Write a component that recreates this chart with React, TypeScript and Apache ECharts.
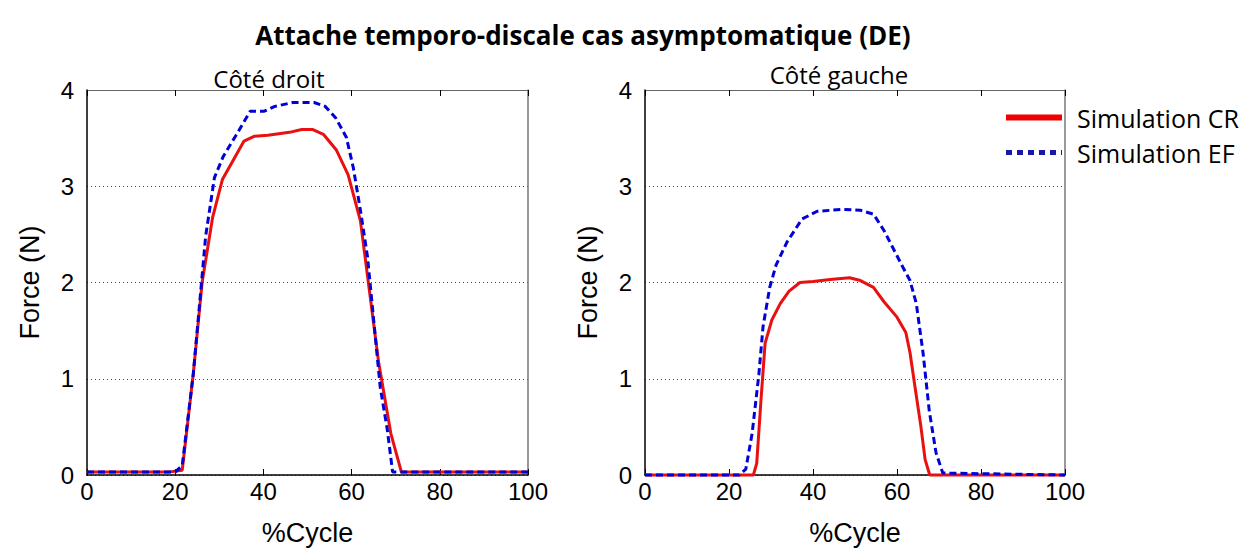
import React, { useEffect, useRef } from "react";
import * as echarts from "echarts";

const titleText = "Attache temporo-discale cas asymptomatique (DE)";
const subTitles = ["Côté droit", "Côté gauche"];
const seriesNames = ["Simulation CR", "Simulation EF"];
const xTicks = [0, 20, 40, 60, 80, 100];
const yTicks = [0, 1, 2, 3, 4];

const xCrDroit = [0, 18.4, 21.6, 24.1, 26.1, 28.5, 30.7, 32.9, 35.6, 38.0, 41.0, 45.9, 48.7, 51.1, 53.6, 56.5, 59.2, 62.0, 64.0, 66.1, 68.9, 71.3, 100];
const yCrDroit = [0.03, 0.03, 0.05, 1.05, 2.0, 2.68, 3.07, 3.25, 3.47, 3.52, 3.53, 3.56, 3.59, 3.59, 3.54, 3.38, 3.12, 2.64, 1.93, 1.18, 0.43, 0.03, 0.03];

const xEfDroit = [0, 20.0, 21.6, 24.1, 25.3, 26.9, 28.9, 30.9, 33.8, 37.0, 40.2, 42.6, 46.7, 51.5, 54.0, 56.4, 58.8, 60.4, 62.0, 63.6, 64.9, 66.5, 68.1, 69.3, 71.3, 100];
const yEfDroit = [0.03, 0.03, 0.1, 1.05, 1.66, 2.48, 3.09, 3.31, 3.53, 3.78, 3.78, 3.83, 3.87, 3.87, 3.83, 3.71, 3.51, 3.19, 2.75, 2.27, 1.66, 0.91, 0.47, 0.03, 0.03, 0.03];

const xCrGauche = [0, 25.8, 26.6, 27.6, 28.6, 30.2, 32.2, 34.3, 36.9, 40.0, 44.1, 48.7, 51.3, 54.4, 56.9, 60.0, 62.1, 63.1, 64.2, 65.7, 66.7, 67.8, 100];
const yCrGauche = [0, 0, 0.12, 0.77, 1.37, 1.61, 1.78, 1.91, 2.0, 2.01, 2.03, 2.05, 2.02, 1.95, 1.8, 1.64, 1.48, 1.27, 0.94, 0.5, 0.16, 0, 0];

const xEfGauche = [0, 22.5, 24.0, 25.5, 27.1, 28.1, 29.7, 31.2, 33.8, 37.4, 41.0, 47.2, 51.3, 54.4, 56.9, 59.5, 61.5, 63.1, 64.6, 66.2, 67.7, 69.3, 70.9, 100];
const yEfGauche = [0, 0, 0.06, 0.43, 1.04, 1.54, 1.95, 2.18, 2.42, 2.66, 2.74, 2.76, 2.75, 2.71, 2.54, 2.32, 2.15, 2.02, 1.78, 1.27, 0.66, 0.23, 0.02, 0];

const RED = "#e81010";
const BLUE = "#0000d8";
const AXIS_FONT = "Liberation Sans, Arial, sans-serif";
const TEXT_FONT = "Open Sans, Noto Sans, sans-serif";

const pairs = (xs: number[], ys: number[]) => xs.map((x, i) => [x, ys[i]]);

export default function App() {
  const ref = useRef<HTMLDivElement>(null);
  useEffect(() => {
    if (!ref.current) return;
    const chart = echarts.init(ref.current, undefined, { renderer: "svg" });
    const grids = [
      { left: 87, top: 90, width: 441, height: 394 },
      { left: 645, top: 90, width: 420, height: 394 },
    ];
    const xAxes: any[] = [];
    const yAxes: any[] = [];
    grids.forEach((_, gi) => {
      xAxes.push({
        type: "value",
        gridIndex: gi,
        min: xTicks[0],
        max: xTicks[xTicks.length - 1],
        interval: 20,
        position: "bottom",
        name: "%Cycle",
        nameLocation: "middle",
        nameGap: 44,
        nameTextStyle: { fontFamily: AXIS_FONT, fontSize: 27, color: "#000" },
        axisLine: { show: true, onZero: false, lineStyle: { color: "#000", width: 1.5 } },
        axisTick: { show: true, inside: true, length: 6, lineStyle: { color: "#000" } },
        axisLabel: { fontFamily: AXIS_FONT, fontSize: 24, color: "#000", margin: 4 },
        splitLine: { show: false },
      });
      xAxes.push({
        type: "value",
        gridIndex: gi,
        min: 0,
        max: 100,
        interval: 20,
        position: "top",
        axisLine: { show: true, onZero: false, lineStyle: { color: "#666", width: 1 } },
        axisTick: { show: true, inside: true, length: 6, lineStyle: { color: "#000" } },
        axisLabel: { show: false },
        splitLine: { show: false },
      });
      yAxes.push({
        type: "value",
        gridIndex: gi,
        min: yTicks[0],
        max: yTicks[yTicks.length - 1],
        interval: 1,
        position: "left",
        name: "Force (N)",
        nameLocation: "middle",
        nameGap: 44,
        nameTextStyle: { fontFamily: AXIS_FONT, fontSize: 27, color: "#000" },
        axisLine: { show: true, onZero: false, lineStyle: { color: "#000", width: 1.5 } },
        axisTick: { show: false },
        axisLabel: { fontFamily: AXIS_FONT, fontSize: 24, color: "#000", margin: 13 },
        splitLine: { show: true, lineStyle: { color: "#444", type: [1, 3], width: 1 } },
      });
      yAxes.push({
        type: "value",
        gridIndex: gi,
        min: 0,
        max: 4,
        interval: 1,
        position: "right",
        axisLine: { show: true, onZero: false, lineStyle: { color: "#777", width: 1.5 } },
        axisTick: { show: false },
        axisLabel: { show: false },
        splitLine: { show: false },
      });
    });

    const mk = (name: string, gi: number, data: number[][], color: string, dashed: boolean) => ({
      type: "line",
      name,
      xAxisIndex: gi * 2,
      yAxisIndex: gi * 2,
      data,
      symbol: "none",
      showSymbol: false,
      clip: false,
      lineStyle: { color, width: 3, type: dashed ? [7, 4] : "solid" },
      itemStyle: { color },
    });

    chart.setOption({
      animation: false,
      backgroundColor: "#fff",
      title: [
        {
          text: titleText,
          left: 578,
          top: 17,
          textAlign: "center",
          textStyle: { fontFamily: TEXT_FONT, fontSize: 26, fontWeight: "bold", color: "#000" },
        },
        {
          text: subTitles[0],
          left: 264,
          top: 61,
          textAlign: "center",
          textStyle: { fontFamily: TEXT_FONT, fontSize: 24, fontWeight: "normal", color: "#000" },
        },
        {
          text: subTitles[1],
          left: 834,
          top: 57,
          textAlign: "center",
          textStyle: { fontFamily: TEXT_FONT, fontSize: 24, fontWeight: "normal", color: "#000" },
        },
      ],
      legend: {
        orient: "vertical",
        left: 1003,
        top: 105,
        itemWidth: 56,
        itemHeight: 20,
        itemGap: 10,
        padding: 0,
        textStyle: { fontFamily: TEXT_FONT, fontSize: 25, lineHeight: 25, color: "#000", padding: [0, 0, 0, 10] },
        data: [
          {
            name: seriesNames[0],
            itemStyle: { opacity: 0 },
            lineStyle: { width: 6, color: "#f00000", type: "solid" },
          },
          {
            name: seriesNames[1],
            itemStyle: { opacity: 0 },
            lineStyle: { width: 5, color: "#1818a8", type: [6, 5] },
          },
        ],
      },
      grid: grids,
      xAxis: xAxes,
      yAxis: yAxes,
      series: [
        mk(seriesNames[0], 0, pairs(xCrDroit, yCrDroit), RED, false),
        mk(seriesNames[1], 0, pairs(xEfDroit, yEfDroit), BLUE, true),
        mk(seriesNames[0], 1, pairs(xCrGauche, yCrGauche), RED, false),
        mk(seriesNames[1], 1, pairs(xEfGauche, yEfGauche), BLUE, true),
      ],
    });
    return () => chart.dispose();
  }, []);
  return (
    <div
      ref={ref}
      style={{ position: "absolute", left: 0, top: 0, width: 1242, height: 551 }}
    />
  );
}
